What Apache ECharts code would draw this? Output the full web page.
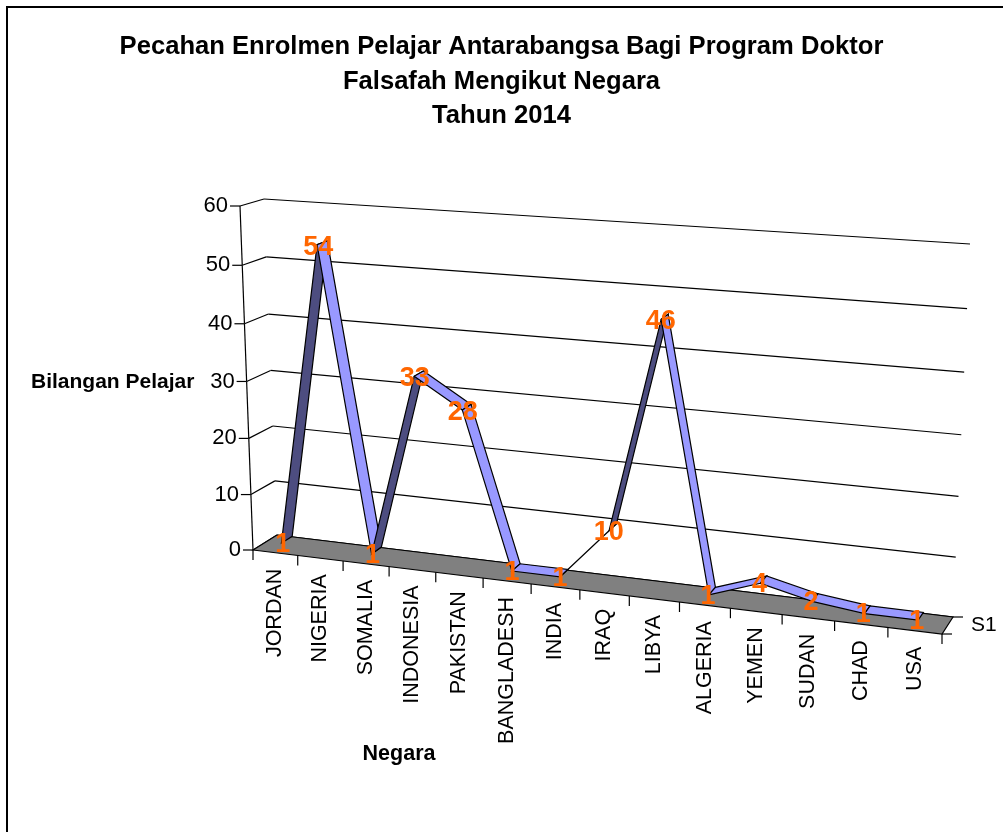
<!DOCTYPE html>
<html>
<head>
<meta charset="utf-8">
<style>
  html, body { margin: 0; padding: 0; background: #fff; }
  #main { width: 1003px; height: 832px; }
</style>
<script src="https://cdn.jsdelivr.net/npm/echarts@6/dist/echarts.min.js"></script>
</head>
<body>
<div id="main"></div>
<script>
var countries = ['JORDAN', 'NIGERIA', 'SOMALIA', 'INDONESIA', 'PAKISTAN', 'BANGLADESH', 'INDIA', 'IRAQ', 'LIBYA', 'ALGERIA', 'YEMEN', 'SUDAN', 'CHAD', 'USA'];
var students = [1, 54, 1, 33, 28, 1, 1, 10, 46, 1, 4, 2, 1, 1];
var yTicks = [0, 10, 20, 30, 40, 50, 60];

var FONT = '"Liberation Sans", Arial, sans-serif';

// corners of the front and back planes on screen: bottom-left, bottom-right, top-right, top-left
var frontPlane = [[253, 550], [942, 634], [959, 255], [240, 206]];
var backPlane = [[277, 535], [953, 617], [970, 244], [264, 199]];

function squareToQuad(q) {
    var x0 = q[0][0], y0 = q[0][1], x1 = q[1][0], y1 = q[1][1];
    var x2 = q[2][0], y2 = q[2][1], x3 = q[3][0], y3 = q[3][1];
    var dx1 = x1 - x2, dx2 = x3 - x2, sx = x0 - x1 + x2 - x3;
    var dy1 = y1 - y2, dy2 = y3 - y2, sy = y0 - y1 + y2 - y3;
    var den = dx1 * dy2 - dx2 * dy1;
    var g = (sx * dy2 - dx2 * sy) / den;
    var h = (dx1 * sy - sx * dy1) / den;
    var a = x1 - x0 + g * x1, b = x3 - x0 + h * x3;
    var d = y1 - y0 + g * y1, e = y3 - y0 + h * y3;
    return function (u, v) {
        var w = g * u + h * v + 1;
        return [(a * u + b * v + x0) / w, (d * u + e * v + y0) / w];
    };
}
var front = squareToQuad(frontPlane);
var back = squareToQuad(backPlane);

// axis coord -> tilted screen position, depth 0 is the front plane and 1 the back
function tilt(cs, p, depth) {
    var u = (p[0] - cs.x) / cs.width;
    var v = 1 - (p[1] - cs.y) / cs.height;
    var f = front(u, v), b = back(u, v);
    return [f[0] + (b[0] - f[0]) * depth, f[1] + (b[1] - f[1]) * depth];
}

function line(a, b, color) {
    return {
        type: 'line',
        shape: { x1: a[0], y1: a[1], x2: b[0], y2: b[1] },
        style: { stroke: color || '#000', lineWidth: 1.2 }
    };
}

function label(text, x, y, size, align, rotation, color, weight) {
    return {
        type: 'text',
        x: x,
        y: y,
        rotation: rotation || 0,
        style: {
            text: text,
            x: 0,
            y: 0,
            font: (weight || 'normal') + ' ' + size + 'px ' + FONT,
            fill: color || '#000',
            align: align,
            verticalAlign: 'middle'
        }
    };
}

function renderGrid(params, api) {
    var cs = params.coordSys;
    var value = api.value(1);
    var p = api.coord([0, value]);
    p[0] = cs.x;
    var right = [cs.x + cs.width, p[1]];
    var f = tilt(cs, p, 0), b = tilt(cs, p, 1), r = tilt(cs, right, 1);
    var children = [
        line(b, r),
        line(f, b),
        line(f, [f[0] - 10, f[1]]),
        label(String(value), f[0] - 12, f[1], 22, 'right')
    ];
    if (value < 60) {
        var up = api.coord([0, value + 10]);
        up[0] = cs.x;
        children.push(line(f, tilt(cs, up, 0)));
    }
    return { type: 'group', children: children };
}

function renderFloor(params, api) {
    var cs = params.coordSys;
    var p = api.coord([0, 0]);
    var l = [cs.x, p[1]], r = [cs.x + cs.width, p[1]];
    var a = tilt(cs, l, 0), b = tilt(cs, r, 0), c = tilt(cs, r, 1), d = tilt(cs, l, 1);
    return {
        type: 'group',
        children: [
            { type: 'polygon', shape: { points: [a, b, c, d] }, style: { fill: '#808080', stroke: '#000', lineWidth: 1.2 } },
            line(b, [b[0] + 10, b[1]]),
            line(c, [c[0] + 10, c[1]]),
            label('S1', c[0] + 18, (b[1] + c[1]) / 2, 21, 'left')
        ]
    };
}

function renderCategory(params, api) {
    var cs = params.coordSys;
    var p = api.coord([api.value(0), 0]);
    var band = api.size([1, 0])[0];
    var mid = tilt(cs, p, 0);
    var left = tilt(cs, [p[0] - band / 2, p[1]], 0);
    var children = [
        line(left, [left[0], left[1] + 10]),
        label(countries[params.dataIndex], mid[0], mid[1] + 16, 21.5, 'right', Math.PI / 2)
    ];
    if (params.dataIndex === countries.length - 1) {
        var right = tilt(cs, [p[0] + band / 2, p[1]], 0);
        children.push(line(right, [right[0], right[1] + 10]));
    }
    return { type: 'group', children: children };
}

function renderRibbon(params, api) {
    var cs = params.coordSys;
    var a = api.coord([api.value(0), api.value(1)]);
    var b = api.coord([api.value(2), api.value(3)]);
    var pts = [tilt(cs, a, 0.27), tilt(cs, b, 0.27), tilt(cs, b, 0.73), tilt(cs, a, 0.73)];
    // which face we see follows from the winding on screen
    var sx = pts[1][0] - pts[0][0], sy = pts[1][1] - pts[0][1];
    var dx = pts[3][0] - pts[0][0], dy = pts[3][1] - pts[0][1];
    var underside = sx * dy - sy * dx > 0;
    return {
        type: 'polygon',
        shape: { points: pts },
        style: { fill: underside ? '#4D4D80' : '#9999FF', stroke: '#000', lineWidth: 1.2 }
    };
}

function renderValue(params, api) {
    var cs = params.coordSys;
    var p = tilt(cs, api.coord([api.value(0), api.value(1)]), 0.5);
    return label(String(api.value(1)), p[0] - 4, p[1] + 5, 27, 'center', 0, '#FF6600', 'bold');
}

var pointData = countries.map(function (c, i) { return [i, students[i]]; });
var segmentData = students.slice(0, -1).map(function (v, i) { return [i, v, i + 1, students[i + 1]]; });

function customSeries(name, data, renderItem, z, encode) {
    return {
        name: name,
        type: 'custom',
        coordinateSystem: 'cartesian2d',
        data: data,
        renderItem: renderItem,
        encode: encode || { x: 0, y: 1 },
        clip: false,
        silent: true,
        z: z
    };
}

var chart = echarts.init(document.getElementById('main'), null, { renderer: 'canvas' });
var option = {
    animation: false,
    backgroundColor: '#fff',
    title: {
        text: 'Pecahan Enrolmen Pelajar Antarabangsa Bagi Program Doktor\nFalsafah Mengikut Negara\nTahun 2014',
        left: 'center',
        top: 25,
        textStyle: { fontFamily: FONT, fontSize: 25.6, fontWeight: 'bold', color: '#000', lineHeight: 34.5, align: 'center' }
    },
    grid: { left: 250, right: 50, top: 200, bottom: 280 },
    xAxis: { type: 'category', data: countries, show: false },
    yAxis: { type: 'value', min: 0, max: 60, interval: 10, show: false },
    graphic: [
        { type: 'line', shape: { x1: 6, y1: 7, x2: 1003, y2: 7 }, style: { stroke: '#000', lineWidth: 2 }, z: 0 },
        { type: 'line', shape: { x1: 7, y1: 6, x2: 7, y2: 832 }, style: { stroke: '#000', lineWidth: 2 }, z: 0 },
        { type: 'text', x: 31, y: 382, style: { text: 'Bilangan Pelajar', font: 'bold 21px ' + FONT, fill: '#000', verticalAlign: 'middle' } },
        { type: 'text', x: 399, y: 754, style: { text: 'Negara', font: 'bold 21.5px ' + FONT, fill: '#000', align: 'center', verticalAlign: 'middle' } }
    ],
    series: [
        customSeries('gridlines', yTicks.map(function (v) { return [0, v]; }), renderGrid, 1),
        customSeries('floor', [[0, 0]], renderFloor, 2),
        customSeries('categories', pointData, renderCategory, 3),
        customSeries('ribbon', segmentData, renderRibbon, 4, { x: [0, 2], y: [1, 3] }),
        customSeries('values', pointData, renderValue, 5)
    ]
};
chart.setOption(option);

window.addEventListener('resize', function () {
    chart.resize();
});
</script>
</body>
</html>
